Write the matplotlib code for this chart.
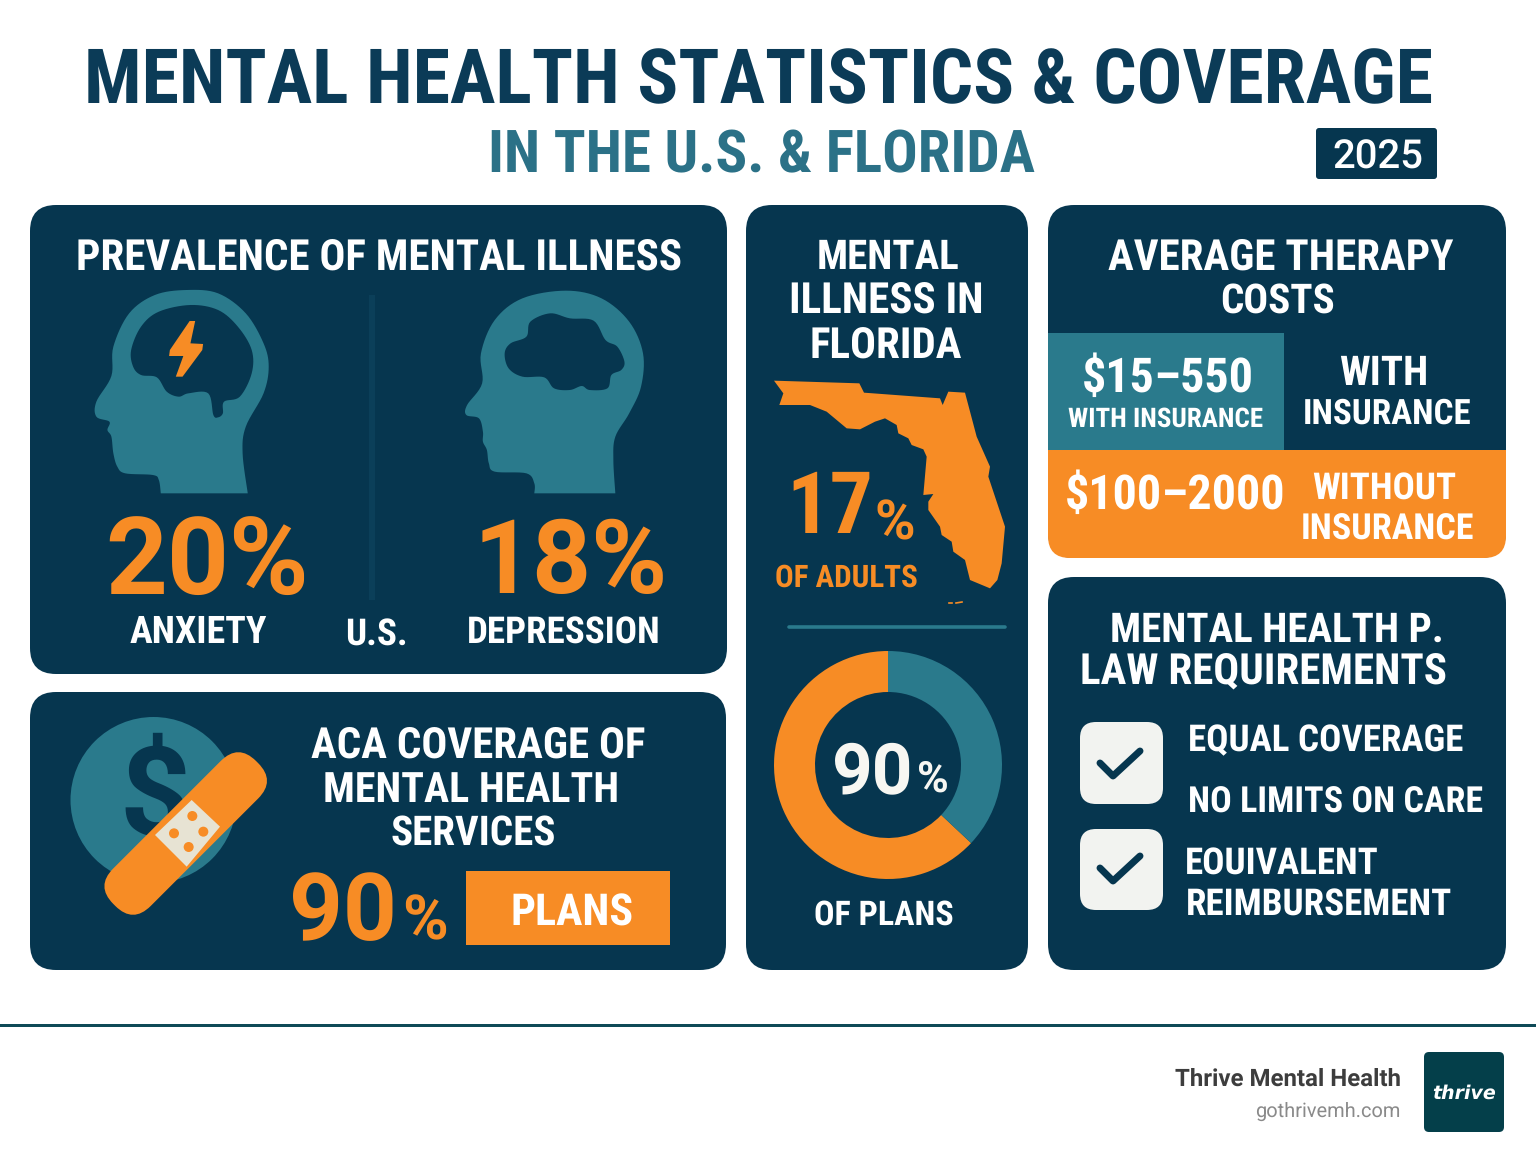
import numpy as np
import matplotlib
matplotlib.use("Agg")
import matplotlib.pyplot as plt
from matplotlib.patches import FancyBboxPatch, Polygon, Circle, Rectangle
from matplotlib.textpath import TextPath
from matplotlib.transforms import Affine2D
from matplotlib.font_manager import FontProperties, fontManager

plt.rcParams["text.hinting"] = "no_hinting"
plt.rcParams["text.hinting_factor"] = 1

# ---- content -------------------------------------------------------------
title_text = "MENTAL HEALTH STATISTICS & COVERAGE"
subtitle_text = "IN THE U.S. & FLORIDA"
year_text = "2025"
prevalence_labels = ["ANXIETY", "DEPRESSION"]
prevalence_values = [20, 18]
florida_adults_pct = 17
plans_pct = 90
donut_labels = ["orange arc", "teal arc"]
donut_shares = [63, 37]
cost_with_insurance = "$15–550"
cost_without_insurance = "$100–2000"
law_items = ["EQUAL COVERAGE", "NO LIMITS ON CARE", "EOUIVALENT", "REIMBURSEMENT"]

NAVY = "#06364F"
NAVY2 = "#0B3F59"
TEAL = "#2A7A8C"
ORANGE = "#F78C25"
TITLE = "#0B3B57"
SUB = "#2B7187"
W = "#F7F7F2"

names = {f.name for f in fontManager.ttflist}
COND = next((n for n in ["Roboto Condensed", "Open Sans Condensed", "Noto Sans Condensed",
                         "Liberation Sans Narrow", "Lato", "Roboto"] if n in names), "DejaVu Sans")

fig = plt.figure(figsize=(15.36, 11.54), dpi=100, facecolor="white")
renderer = fig.canvas.get_renderer()
ax = fig.add_axes([0, 0, 1, 1])
ax.set_xlim(0, 1536)
ax.set_ylim(1154, 0)
ax.axis("off")


def fit(s, x0, x1, yc, color="white", family=COND, weight="bold", style="normal", z=10, target=None):
    """Real text sized from its drawn width so it spans x0..x1, centred on yc (pixels)."""
    target = target or ax
    fp = FontProperties(family=family, weight=weight, style=style)
    e = TextPath((0, 0), s, size=100, prop=fp).get_extents()
    size_pt = 100 * (x1 - x0) / e.width * 72 / 100
    t = target.text((x0 + x1) / 2, yc, s, fontsize=size_pt, color=color, family=family,
                    weight=weight, style=style, ha="center", va="baseline", zorder=z)
    for _ in range(3):
        ppu = size_pt * 100 / 72 / 100
        want = (x1 - x0) + e.x0 * ppu
        size_pt *= want / t.get_window_extent(renderer).width
        t.set_fontsize(size_pt)
    ppu = size_pt * 100 / 72 / 100
    t.set_y(yc + (e.y0 + e.height / 2) * ppu)


def rbox(x0, y0, x1, y1, r, color, z=1):
    ax.add_patch(FancyBboxPatch((x0 + r, y0 + r), x1 - x0 - 2 * r, y1 - y0 - 2 * r,
                                boxstyle=f"round,pad={r},rounding_size={r}",
                                fc=color, ec="none", zorder=z))


def spline(p, k=8):
    """Closed Catmull-Rom curve through the outline points."""
    p = np.asarray(p, float)
    out = []
    t = np.linspace(0, 1, k, endpoint=False)[:, None]
    for i in range(len(p)):
        a, b, c, d = p[i - 1], p[i], p[(i + 1) % len(p)], p[(i + 2) % len(p)]
        out.append(0.5 * (2 * b + (c - a) * t + (2 * a - 5 * b + 4 * c - d) * t ** 2
                          + (3 * b - a - 3 * c + d) * t ** 3))
    return np.vstack(out)


def shape(zpts, ox, oy, sx, sy, color, z=3, soft=True):
    p = np.asarray(zpts, float) / [sx, sy] + [ox, oy]
    if soft:
        p = spline(p)
    ax.add_patch(Polygon(p, closed=True, fc=color, ec="none", zorder=z))


# ---- header --------------------------------------------------------------
fit(title_text, 82, 1435, 76, TITLE)
fit(subtitle_text, 492, 1030, 151, SUB)
rbox(1316, 128, 1437, 179, 3, NAVY)
fit(year_text, 1333, 1422, 154, "white", family="Roboto", weight="medium")

# ---- panels --------------------------------------------------------------
rbox(30, 205, 727, 674, 26, NAVY)
rbox(30, 692, 726, 970, 26, NAVY)
rbox(746, 205, 1028, 970, 26, NAVY)
rbox(1048, 205, 1506, 558, 26, NAVY)
rbox(1048, 577, 1506, 970, 26, NAVY)

# ---- prevalence ----------------------------------------------------------
fit("PREVALENCE OF MENTAL ILLNESS", 82, 677, 254)
ax.add_patch(Rectangle((369, 295), 6, 305, fc=NAVY2, ec="none", zorder=2))

head_l = [(255, 640), (255, 640), (255, 640), (250, 600), (235, 585), (165, 580), (145, 560), (135, 520),
          (130, 470), (120, 450), (125, 425), (92, 410), (92, 365), (130, 288), (135, 200), (175, 100),
          (240, 45), (320, 30), (400, 40), (470, 100), (515, 190), (528, 260), (515, 340), (470, 440),
          (462, 520), (475, 640), (475, 640), (475, 640)]
brain_l = [(180, 210), (205, 140), (250, 95), (330, 75), (400, 90), (450, 140), (485, 210), (485, 280),
           (455, 350), (415, 365), (412, 400), (400, 412), (388, 405), (375, 340), (325, 340), (300, 350),
           (270, 335), (245, 292), (205, 285), (185, 260)]
bolt = [(328, 123), (342, 123), (330, 190), (362, 192), (360, 210), (310, 290), (293, 290), (312, 228),
        (276, 228), (278, 210)]
head_r = [(1200, 640), (1200, 640), (1200, 640), (1200, 610), (1180, 580), (1100, 575), (1085, 550),
          (1080, 510), (1070, 485), (1070, 455), (1060, 415), (1028, 405), (1030, 375), (1068, 310),
          (1065, 220), (1100, 120), (1170, 55), (1280, 32), (1370, 55), (1440, 125), (1475, 220), (1470, 320),
          (1440, 400), (1405, 470), (1400, 540), (1405, 640), (1405, 640), (1405, 640)]
cloud = [(1180, 170), (1190, 125), (1240, 100), (1290, 115), (1350, 122), (1380, 180), (1410, 200),
         (1428, 245), (1420, 270), (1395, 285), (1385, 325), (1340, 330), (1320, 318), (1290, 330),
         (1250, 325), (1225, 292), (1170, 290), (1135, 265), (1125, 220), (1140, 190)]
SX, SY = 2.53, 3.0
shape(head_l, 60, 280, SX, SY, TEAL)
shape(brain_l, 60, 280, SX, SY, NAVY, z=4)
shape(bolt, 60, 280, SX, SY, ORANGE, z=5, soft=False)
shape(head_r, 60, 280, SX, SY, TEAL)
shape(cloud, 60, 280, SX, SY, NAVY, z=4)

fit(f"{prevalence_values[0]}%", 107, 307, 556, ORANGE, family="Roboto")
fit(f"{prevalence_values[1]}%", 478, 663, 556, ORANGE, family="Roboto")
fit(prevalence_labels[0], 130, 266, 630)
fit("U.S.", 346, 407, 632)
fit(prevalence_labels[1], 467, 661, 630)

# ---- ACA panel -----------------------------------------------------------
ax.add_patch(Circle((153.5, 800), 83, fc=TEAL, ec="none", zorder=3))
fit("$", 122, 188, 790, NAVY, family="Roboto", z=4)
ax.add_patch(FancyBboxPatch((185.7 - 76, 833.5 - 1.5), 152, 3,
                            boxstyle="round,pad=25,rounding_size=25", fc=ORANGE, ec="none", zorder=5,
                            transform=Affine2D().rotate_deg_around(185.7, 833.5, -45) + ax.transData))
pad = [(425, 300), (510, 380), (410, 500), (315, 405)]
shape(pad, 50, 700, 3, 3, "#E7E3D3", z=6, soft=False)
for zx, zy in [(427, 348), (372, 400), (460, 395), (416, 441)]:
    ax.add_patch(Circle((50 + zx / 3, 700 + zy / 3), 5, fc=ORANGE, ec="none", zorder=7))

fit("ACA COVERAGE OF", 313, 644, 742)
fit("MENTAL HEALTH", 328, 615, 787)
fit("SERVICES", 390, 557, 830)
fit(f"{plans_pct}", 291, 395, 907, ORANGE, family="Roboto")
fit("%", 404, 447, 917, ORANGE, family="Roboto")
ax.add_patch(Rectangle((466, 871), 204, 74, fc=ORANGE, ec="none", zorder=3))
fit("PLANS", 512, 632, 910)

# ---- Florida -------------------------------------------------------------
fit("MENTAL", 818, 959, 254)
fit("ILLNESS IN", 791, 982, 298)
fit("FLORIDA", 810, 962, 343)
florida = [(42, 32), (298, 40), (312, 68), (540, 85), (548, 105), (565, 65), (615, 68), (650, 200),
           (690, 290), (685, 320), (735, 470), (725, 580), (712, 630), (690, 655), (630, 630), (615, 570),
           (580, 545), (575, 515), (545, 495), (540, 470), (505, 420), (505, 395), (520, 372), (490, 375),
           (500, 260), (490, 238), (455, 225), (445, 205), (415, 190), (410, 165), (375, 145), (345, 155),
           (300, 178), (260, 175), (200, 125), (150, 105), (58, 105), (70, 70)]
shape(florida, 760, 370, 3, 3, ORANGE, soft=False)
ax.plot([949, 952], [603, 603], color=ORANGE, lw=1.2, zorder=3)
ax.plot([956, 962], [603, 602], color=ORANGE, lw=1.2, zorder=3)
fit(f"{florida_adults_pct}", 790, 870, 502, ORANGE)
fit("%", 876, 914, 520, ORANGE, family="Roboto")
fit("OF ADULTS", 775, 917, 576, ORANGE)
ax.plot([789, 1005], [627, 627], color=TEAL, lw=2.6, solid_capstyle="round", zorder=3)

dax = fig.add_axes([774 / 1536, 1 - 879 / 1154, 228 / 1536, 228 / 1154])
dax.pie(donut_shares, colors=[ORANGE, TEAL], startangle=90, counterclock=True, radius=1,
        wedgeprops=dict(width=41 / 114, linewidth=0))
dax.set_xlim(-1, 1)
dax.set_ylim(-1, 1)
dax.patch.set_alpha(0)
dax.set_zorder(2)

txt_ax = fig.add_axes([0, 0, 1, 1], facecolor="none")
txt_ax.set_xlim(0, 1536)
txt_ax.set_ylim(1154, 0)
txt_ax.axis("off")
txt_ax.set_zorder(3)
fit(f"{plans_pct}", 834, 912, 768, W, family="Roboto", target=txt_ax)
fit("%", 918, 948, 776, W, family="Roboto", target=txt_ax)
fit("OF PLANS", 815, 952, 913)

# ---- therapy costs -------------------------------------------------------
fit("AVERAGE THERAPY", 1111, 1451, 254)
fit("COSTS", 1221, 1335, 298)
rbox(1048, 420, 1506, 558, 22, ORANGE, z=2)
ax.add_patch(Rectangle((1048, 333), 458, 117, fc=NAVY, ec="none", zorder=2))
ax.add_patch(Rectangle((1048, 333), 236, 117, fc=TEAL, ec="none", zorder=3))
fit(cost_with_insurance, 1083, 1253, 375)
fit("WITH INSURANCE", 1069, 1262, 417)
fit("WITH", 1340, 1427, 371)
fit("INSURANCE", 1304, 1471, 411)
fit(cost_without_insurance, 1065, 1285, 492)
fit("WITHOUT", 1313, 1456, 487)
fit("INSURANCE", 1302, 1472, 527)

# ---- parity --------------------------------------------------------------
fit("MENTAL HEALTH P.", 1111, 1443, 627)
fit("LAW REQUIREMENTS", 1079, 1448, 672)
rbox(1080, 722, 1163, 804, 16, "#F2F3F0", z=3)
rbox(1080, 829, 1163, 910, 16, "#F2F3F0", z=3)
for dy in (0, 105):
    ax.plot([1100, 1113, 1140], [763 + dy, 776 + dy, 751 + dy], color=NAVY, lw=5,
            solid_capstyle="round", solid_joinstyle="round", zorder=4)
fit(law_items[0], 1187, 1464, 740)
fit(law_items[1], 1187, 1484, 800)
fit(law_items[2], 1187, 1377, 862)
fit(law_items[3], 1187, 1452, 903)

# ---- footer --------------------------------------------------------------
ax.add_patch(Rectangle((0, 1024), 1536, 3, fc="#0E4A57", ec="none", zorder=2))
fit("Thrive Mental Health", 1175, 1400, 1077, "#3D3D3D", family="Roboto", weight="bold")
fit("gothrivemh.com", 1255, 1400, 1111, "#8A8A8A", family="Roboto", weight="normal")
rbox(1424, 1052, 1504, 1132, 5, "#043F4A", z=2)
fit("thrive", 1433, 1495, 1092, "white", family="DejaVu Sans", weight="bold", style="italic")

fig.savefig("out.png", dpi=100, facecolor="white")
